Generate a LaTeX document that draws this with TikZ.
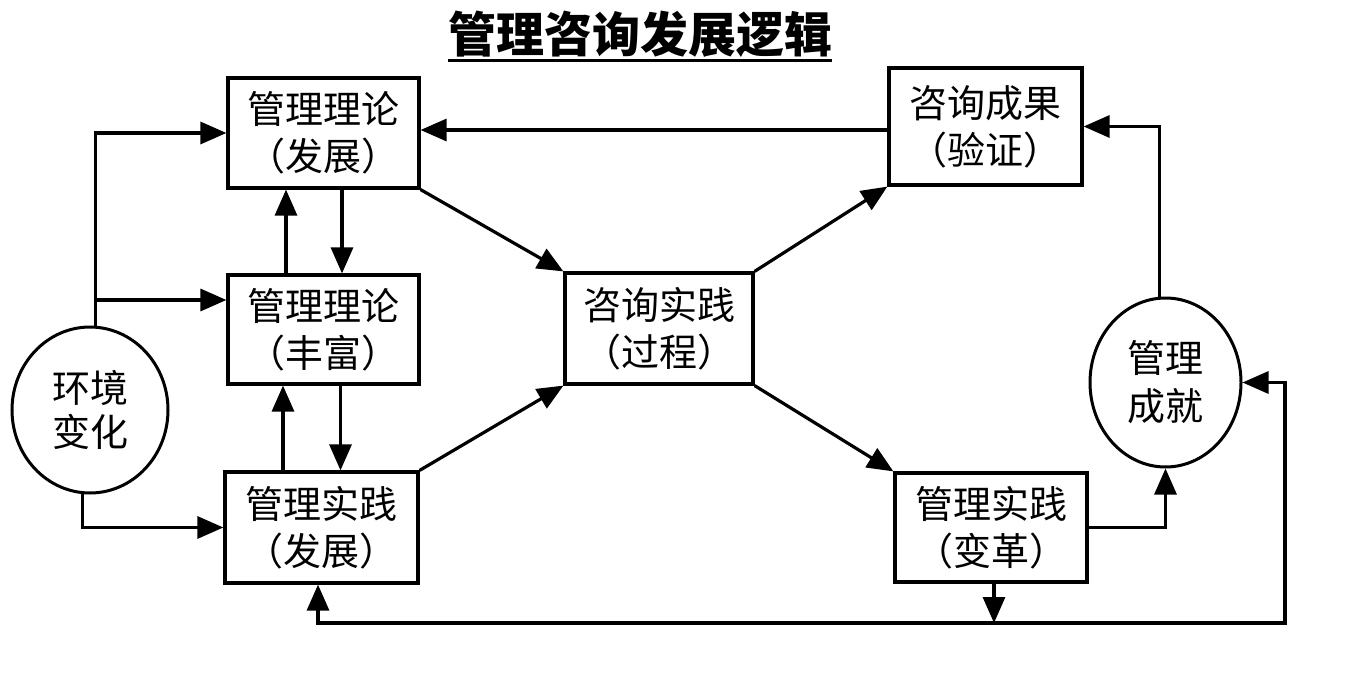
\documentclass[tikz,border=0pt]{standalone}
\usepackage{fontspec}
\newfontfamily\cjk{Noto Sans CJK SC}
\usetikzlibrary{arrows.meta,calc,shapes.geometric}
\begin{document}
\begin{tikzpicture}[x=1pt,y=-1pt,
  box/.style={draw,line width=3.2pt,rectangle,inner sep=0pt,align=center,font=\cjk\fontsize{38}{47}\selectfont},
  oval/.style={draw,line width=3pt,ellipse,inner sep=0pt,align=center,font=\cjk\fontsize{38}{46}\selectfont},
  arr/.style={line width=3.2pt,-{Triangle[length=26pt,width=22pt]}},
  biarr/.style={line width=3.2pt,{Triangle[length=26pt,width=22pt]}-{Triangle[length=26pt,width=22pt]}},
  ]
\useasboundingbox (0,0) rectangle (1365,679);
\fill[white] (0,0) rectangle (1365,679);

% title
\node[font=\cjk\bfseries\fontsize{48}{48}\selectfont,inner sep=0pt] (title) at (640,34) {管理咨询发展逻辑};
\draw[line width=3pt] ([yshift=-3pt]title.south west) -- ([yshift=-3pt]title.south east);

% boxes
\node[box,minimum width=191pt,minimum height=110pt] (t1) at (323.5,133) {管理理论\\（发展）};
\node[box,minimum width=191pt,minimum height=109pt] (t2) at (323.5,329.5) {管理理论\\（丰富）};
\node[box,minimum width=193pt,minimum height=111pt] (p1) at (321.5,527.5) {管理实践\\（发展）};
\node[box,minimum width=188pt,minimum height=111pt] (cp) at (659,328.5) {咨询实践\\（过程）};
\node[box,minimum width=193pt,minimum height=117pt] (cr) at (985.5,126.5) {咨询成果\\（验证）};
\node[box,minimum width=192pt,minimum height=109pt] (pr) at (991,527.5) {管理实践\\（变革）};
\node[oval,minimum width=156pt,minimum height=166pt,font=\cjk\fontsize{38}{44}\selectfont] (env) at (90,410) {环境\\变化};
\node[oval,minimum width=151pt,minimum height=169pt,font=\cjk\fontsize{38}{48}\selectfont] (ach) at (1165.5,382.5) {管理\\成就};

% environment to left boxes
\draw[arr] (env.86) |- (t1.west);
\coordinate (b2) at (95,300);
\draw[arr] (b2) -- (b2 -| t2.west);
\draw[arr] (env.265) |- (p1.west);

% vertical links between left boxes
\coordinate (u1) at ([xshift=-37.5pt]t2.north);
\draw[arr] (u1) -- (u1 |- t1.south);
\coordinate (d1) at ([xshift=18.5pt]t1.south);
\draw[arr] (d1) -- (d1 |- t2.north);
\coordinate (u2) at ([xshift=-38.5pt]p1.north);
\draw[arr] (u2) -- (u2 |- t2.south);
\coordinate (d2) at ([xshift=17pt]t2.south);
\draw[arr] (d2) -- (d2 |- p1.north);

% diagonals
\draw[arr] (t1.south east) -- (cp.north west);
\draw[arr] (p1.north east) -- (cp.south west);
\draw[arr] (cp.north east) -- (cr.south west);
\draw[arr] (cp.south east) -- (pr.north west);

% consulting result back to theory
\coordinate (c1) at ([yshift=-3.5pt]cr.west);
\draw[arr] (c1) -- (c1 -| t1.east);

% achievement to result
\draw[arr] (ach.94) |- (cr.east);
% reform to achievement
\draw[arr] (pr.east) -| (ach.south);

% bottom loop
\coordinate (jr) at (994,623);
\draw[arr] (pr.south -| jr) -- (jr);
\coordinate (bR) at (1285,623);
\draw[biarr] ([xshift=-3.5pt]p1.south) |- (bR) |- (ach.east);
\end{tikzpicture}
\end{document}
